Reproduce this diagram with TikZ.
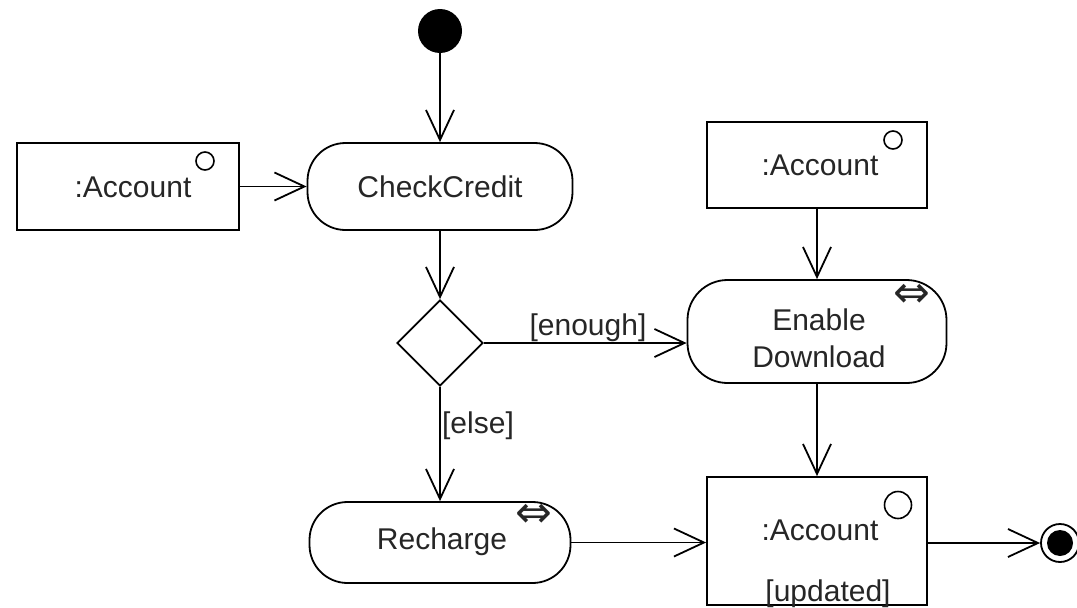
\documentclass[tikz,border=0pt]{standalone}
\usepackage{fontspec}
\setmainfont{Liberation Sans}
\newfontfamily\symfont{DejaVu Sans}
\usetikzlibrary{arrows.meta,shapes.geometric}

\begin{document}
\begin{tikzpicture}[x=1pt,y=-1pt,
  every node/.style={font=\fontsize{30}{37}\selectfont, text=black!85, inner sep=0pt},
  flow/.style={line width=1.8pt, -{Straight Barb[length=30pt,width=28pt,line width=1.8pt]}},
  objbox/.style={draw, line width=1.8pt, rectangle, inner sep=0pt},
  action/.style={draw, line width=1.8pt, rectangle, rounded corners=38pt, inner sep=0pt},
  pinmark/.style={draw, circle, line width=1.6pt, inner sep=0pt},
  streaming/.style={font=\symfont\fontsize{44}{44}\selectfont, inner sep=0pt},
  label/.style={inner sep=0pt}
]
\useasboundingbox (0,0) rectangle (1077,608);

% initial node
\node[fill=black, circle, minimum size=44pt, inner sep=0pt] (start) at (440,31) {};

% input object and first action
\node[objbox, minimum width=222pt, minimum height=87pt] (accA) at (128,186.5) {};
\node[label] (accAtxt) at (133,187) {:Account};
\node[pinmark, minimum size=18pt] (accApin) at (205,161) {};

\node[action, minimum width=265pt, minimum height=87pt] (check) at (440,186.5) {};
\node[label] (checktxt) at (440,187) {CheckCredit};

% decision
\node[draw, diamond, line width=1.8pt, minimum size=86pt, inner sep=0pt] (dec) at (440,343) {};

% account feeding the download action
\node[objbox, minimum width=220pt, minimum height=86pt] (accB) at (817,165) {};
\node[label] (accBtxt) at (820,165) {:Account};
\node[pinmark, minimum size=18pt] (accBpin) at (893,140) {};

\node[action, minimum width=259pt, minimum height=103pt, rounded corners=40pt] (enable) at (817,331.5) {};
\node[label, align=center] (enabletxt) at (819,338) {Enable\\Download};
\node[streaming] (enablesym) at (911.5,296) {⇔};

% recharge action
\node[action, minimum width=261pt, minimum height=81pt] (recharge) at (440,542.5) {};
\node[label] (rechargetxt) at (442,542) {Recharge};
\node[streaming] (rechargesym) at (534,516) {⇔};

% updated account
\node[objbox, minimum width=220pt, minimum height=128pt] (accC) at (817,541) {};
\node[label] (accCtxt) at (820,530) {:Account};
\node[label] (accCstate) at (828,594) {[updated]};
\node[pinmark, minimum size=27pt] (accCpin) at (898,505) {};

% final node
\node[draw, circle, line width=1.8pt, minimum size=38pt, inner sep=0pt] (finish) at (1060,543) {};
\node[fill=black, circle, minimum size=26pt, inner sep=0pt] (finishdot) at (finish.center) {};

% guards
\node[label] (guardEnough) at (588,328) {[enough]};
\node[label] (guardElse) at (478,426) {[else]};

% flows
\draw[flow] (start.south) -- (check.north);
\draw[flow] (accA.east) -- (check.west);
\draw[flow] (check.south) -- (dec.north);
\draw[flow] (dec.east) -- (dec.east -| enable.west);
\draw[flow] (dec.south) -- (recharge.north);
\draw[flow] (accB.south) -- (enable.north);
\draw[flow] (enable.south) -- (accC.north);
\draw[flow] (recharge.east) -- (recharge.east -| accC.west);
\draw[flow] (finish.west -| accC.east) -- (finish.west);
\end{tikzpicture}
\end{document}
